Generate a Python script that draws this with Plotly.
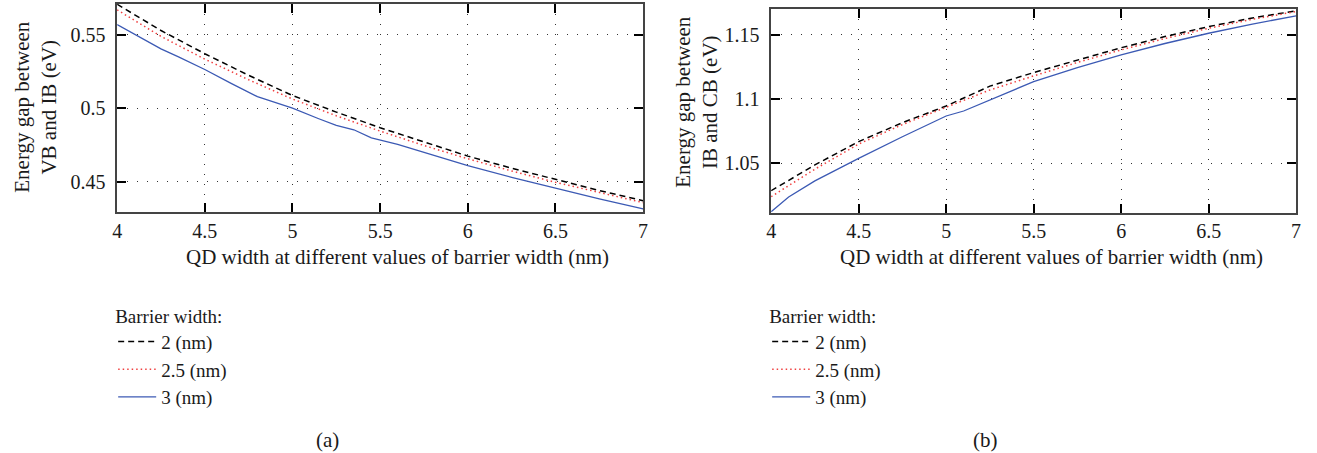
import plotly.graph_objects as go

W, H = 1317, 453
FONT = "Liberation Serif, Times New Roman, serif"

# ---------------- data ----------------
# (a) Energy gap between VB and IB (eV)
a_x_2nm = [4.0, 4.25, 4.5, 4.75, 5.0, 5.25, 5.5, 5.75, 6.0, 6.25, 6.5, 6.75, 7.0]
a_y_2nm = [0.5708, 0.5530, 0.5372, 0.5225, 0.5088, 0.4975, 0.4869, 0.4770, 0.4676, 0.4594, 0.4516, 0.4442, 0.4373]

a_x_25nm = [4.0, 4.25, 4.5, 4.75, 5.0, 5.25, 5.5, 5.75, 6.0, 6.25, 6.5, 6.75, 7.0]
a_y_25nm = [0.5670, 0.5490, 0.5335, 0.5195, 0.5064, 0.4950, 0.4846, 0.4748, 0.4658, 0.4575, 0.4498, 0.4427, 0.4360]

a_x_3nm = [4.0, 4.1, 4.25, 4.35, 4.5, 4.65, 4.8, 4.9, 5.0, 5.15, 5.25, 5.35, 5.45, 5.6, 5.75, 6.0, 6.25, 6.5, 6.75, 7.0]
a_y_3nm = [0.5570, 0.5505, 0.5405, 0.5350, 0.5265, 0.5170, 0.5080, 0.5042, 0.5002, 0.4930, 0.4885, 0.4855, 0.4800, 0.4755, 0.4700, 0.4612, 0.4532, 0.4457, 0.4385, 0.4317]

# (b) Energy gap between IB and CB (eV)
b_x_2nm = [4.0, 4.25, 4.5, 4.75, 5.0, 5.25, 5.5, 5.75, 6.0, 6.25, 6.5, 6.75, 7.0]
b_y_2nm = [1.0284, 1.0485, 1.0667, 1.0815, 1.0945, 1.1100, 1.1206, 1.1305, 1.1400, 1.1487, 1.1565, 1.1632, 1.1688]

b_x_25nm = [4.0, 4.25, 4.5, 4.75, 5.0, 5.25, 5.5, 5.75, 6.0, 6.25, 6.5, 6.75, 7.0]
b_y_25nm = [1.0237, 1.0452, 1.0648, 1.0800, 1.0935, 1.1070, 1.1180, 1.1285, 1.1383, 1.1472, 1.1552, 1.1622, 1.1682]

b_x_3nm = [4.0, 4.1, 4.25, 4.375, 4.5, 4.75, 4.9, 5.0, 5.1, 5.25, 5.5, 5.75, 6.0, 6.25, 6.5, 6.75, 7.0]
b_y_3nm = [1.0120, 1.0235, 1.0360, 1.0450, 1.0536, 1.0705, 1.0805, 1.0867, 1.0906, 1.0992, 1.1135, 1.1245, 1.1344, 1.1433, 1.1513, 1.1585, 1.1648]

series_names = ["2 (nm)", "2.5 (nm)", "3 (nm)"]
x_ticks = [4, 4.5, 5, 5.5, 6, 6.5, 7]
x_ticktext = ["4", "4.5", "5", "5.5", "6", "6.5", "7"]
a_yticks = [0.45, 0.5, 0.55]
a_yticktext = ["0.45", "0.5", "0.55"]
b_yticks = [1.05, 1.1, 1.15]
b_yticktext = ["1.05", "1.1", "1.15"]

x_title = "QD width at different values of barrier width (nm)"
a_ytitle = "Energy gap between<br>VB and IB (eV)"
b_ytitle = "Energy gap between<br>IB and CB (eV)"
legend_title = "Barrier width:"

# ---------------- styles ----------------
styles = [
    dict(color="black", dash="6px,4px", width=1.5),
    dict(color="#f04040", dash="1.5px,3px", width=1.5),
    dict(color="#3c5ab4", dash="solid", width=1.3),
]

fig = go.Figure()
panel_a = [(a_x_2nm, a_y_2nm), (a_x_25nm, a_y_25nm), (a_x_3nm, a_y_3nm)]
panel_b = [(b_x_2nm, b_y_2nm), (b_x_25nm, b_y_25nm), (b_x_3nm, b_y_3nm)]
for (xs, ys), name, st in zip(panel_a, series_names, styles):
    fig.add_trace(go.Scatter(x=xs, y=ys, mode="lines", name=name, line=st,
                             xaxis="x", yaxis="y", legend="legend"))
for (xs, ys), name, st in zip(panel_b, series_names, styles):
    fig.add_trace(go.Scatter(x=xs, y=ys, mode="lines", name=name, line=st,
                             xaxis="x2", yaxis="y2", legend="legend2"))

TXT = "#1a1a1a"
tickfont = dict(family=FONT, size=20, color=TXT)
common = dict(
    ticks="inside", ticklen=9, tickwidth=1.5, tickcolor="black",
    mirror="ticks", showline=True, linecolor="#444", linewidth=1.5,
    showgrid=True, gridcolor="#333", griddash="1px,9px", gridwidth=1.3,
    zeroline=False, tickfont=tickfont,
)

legend_font = dict(family=FONT, size=19, color=TXT)
fig.update_layout(
    width=W, height=H,
    font=dict(family=FONT, color=TXT),
    margin=dict(l=0, r=0, t=0, b=0),
    paper_bgcolor="white", plot_bgcolor="white",
    xaxis=dict(domain=[113 / W, 643 / W], range=[4, 7], tickvals=x_ticks,
               ticktext=x_ticktext, anchor="y", ticklabelstandoff=0, **common),
    yaxis=dict(domain=[1 - 212 / H, 1 - 4 / H], range=[0.4296, 0.571],
               tickvals=a_yticks, ticktext=a_yticktext, anchor="x", ticklabelstandoff=6, **common),
    xaxis2=dict(domain=[772 / W, 1301 / W], range=[4, 7], tickvals=x_ticks,
                ticktext=x_ticktext, anchor="y2", ticklabelstandoff=0, **common),
    yaxis2=dict(domain=[1 - 212.7 / H, 1 - 9.3 / H], range=[1.0112, 1.170],
                tickvals=b_yticks, ticktext=b_yticktext, anchor="x2", ticklabelstandoff=6, **common),
    legend=dict(x=109 / W, y=1 - 298 / H, xanchor="left", yanchor="top",
                title=dict(text=legend_title, font=legend_font),
                font=legend_font, itemwidth=38,
                bgcolor="rgba(0,0,0,0)", borderwidth=0, tracegroupgap=0),
    legend2=dict(x=768 / W, y=1 - 298 / H, xanchor="left", yanchor="top",
                 title=dict(text=legend_title, font=legend_font),
                 font=legend_font, itemwidth=38,
                 bgcolor="rgba(0,0,0,0)", borderwidth=0, tracegroupgap=0),
    showlegend=True,
)

title_font = dict(family=FONT, size=21, color=TXT)
annotations = [
    dict(text=x_title, x=395.5 / W, y=1 - 257 / H, xref="paper", yref="paper",
         xanchor="center", yanchor="middle", showarrow=False, font=title_font),
    dict(text=x_title, x=1054.5 / W, y=1 - 257 / H, xref="paper", yref="paper",
         xanchor="center", yanchor="middle", showarrow=False, font=title_font),
    dict(text=a_ytitle, x=30 / W, y=1 - 107 / H, xref="paper", yref="paper",
         xanchor="center", yanchor="middle", showarrow=False, textangle=-90, font=title_font),
    dict(text=b_ytitle, x=696 / W, y=1 - 102 / H, xref="paper", yref="paper",
         xanchor="center", yanchor="middle", showarrow=False, textangle=-90, font=title_font),
    dict(text="(a)", x=325 / W, y=1 - 440 / H, xref="paper", yref="paper",
         xanchor="center", yanchor="middle", showarrow=False, font=title_font),
    dict(text="(b)", x=988 / W, y=1 - 440 / H, xref="paper", yref="paper",
         xanchor="center", yanchor="middle", showarrow=False, font=title_font),
]
fig.update_layout(annotations=annotations)

fig.write_html("out.html")
